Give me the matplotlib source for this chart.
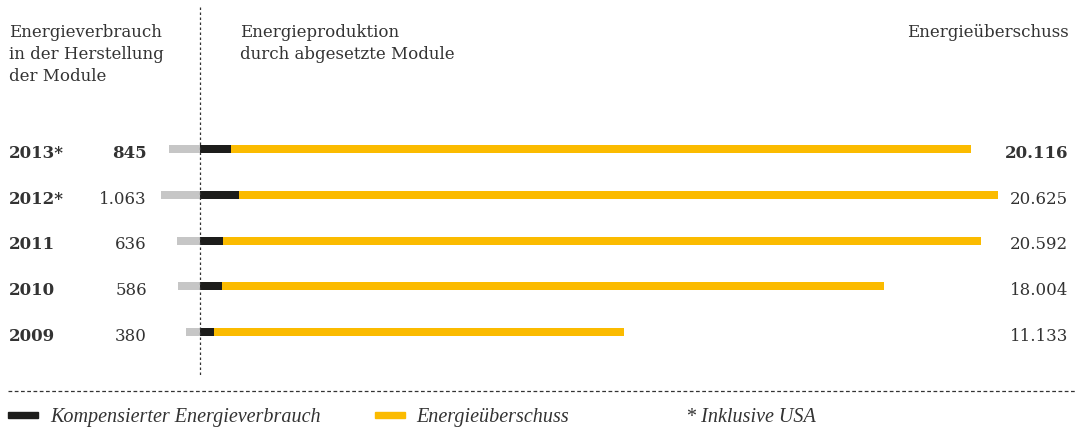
import matplotlib.pyplot as plt
import numpy as np

plt.rcParams['font.family'] = ['DejaVu Serif']

years = ['2013*', '2012*', '2011', '2010', '2009']
verbrauch = [845, 1063, 636, 586, 380]
ueberschuss = [20116, 20625, 20592, 18004, 11133]
verbrauch_lbl = ['845', '1.063', '636', '586', '380']
ueberschuss_lbl = ['20.116', '20.625', '20.592', '18.004', '11.133']

GRAU = '#c6c6c6'
SCHWARZ = '#1d1d1b'
GELB = '#fbbb00'
TEXT = '#333333'

W, H = 1075, 431
fig = plt.figure(figsize=(W / 100, H / 100), dpi=100)
ax = fig.add_axes([0, 0, 1, 1])

# px per unit on the x axis, zero sits at the dotted line
s = 0.036795
x0 = 200
ax.set_xlim(-x0 / s, (W - x0) / s)
row0, drow = 150, 45.75
ax.set_ylim((H - row0) / drow, -row0 / drow)
ax.axis('off')

y = np.arange(len(years))
h = 8 / drow
v = np.array(verbrauch)
u = np.array(ueberschuss)
ax.barh(y, -v, height=h, color=GRAU, lw=0)
ax.barh(y, v, height=h, color=SCHWARZ, lw=0)
ax.barh(y, u, left=v, height=h, color=GELB, lw=0)

# dotted separator and dashed baseline
def py(p):
    return (p - row0) / drow

ax.plot([0, 0], [py(8), py(376)], color=TEXT, lw=0.9, ls=(0, (2, 2)))
ax.plot([-x0 / s + 8 / s, (W - x0) / s], [py(392), py(392)],
        color=TEXT, lw=0.9, ls=(0, (3, 2)))

def fx(p):
    return p / W

def fy(p):
    return 1 - p / H

fs = 12
def txt(x, yb, s, **kw):
    fig.text(fx(x), fy(yb), s, fontsize=kw.pop('fontsize', fs), color=TEXT,
             va='baseline', **kw)

for k, line in enumerate(['Energieverbrauch', 'in der Herstellung', 'der Module']):
    txt(9, 37 + 22 * k, line)
for k, line in enumerate(['Energieproduktion', 'durch abgesetzte Module']):
    txt(240, 37 + 22 * k, line)
txt(1069, 37, 'Energieüberschuss', ha='right')

for i in range(len(years)):
    yb = row0 + i * drow + 8
    bold = 'bold' if i == 0 else 'normal'
    txt(9, yb, years[i], weight='bold')
    txt(147, yb, verbrauch_lbl[i], ha='right', weight=bold)
    txt(1068, yb, ueberschuss_lbl[i], ha='right', weight=bold)

# legend
leg_y = 416
fig.patches.append(plt.Rectangle((fx(8), fy(leg_y + 3)), 30 / W, 6 / H,
                                 color=SCHWARZ, transform=fig.transFigure))
fig.patches.append(plt.Rectangle((fx(375), fy(leg_y + 3)), 30 / W, 6 / H,
                                 color=GELB, transform=fig.transFigure))
lfs = 14.5
for x, line in [(50, 'Kompensierter Energieverbrauch'),
                (416, 'Energieüberschuss'),
                (686, '* Inklusive USA')]:
    txt(x, leg_y + 6, line, fontsize=lfs, style='italic',
        family='Liberation Serif')

fig.savefig('out.png', dpi=100)
